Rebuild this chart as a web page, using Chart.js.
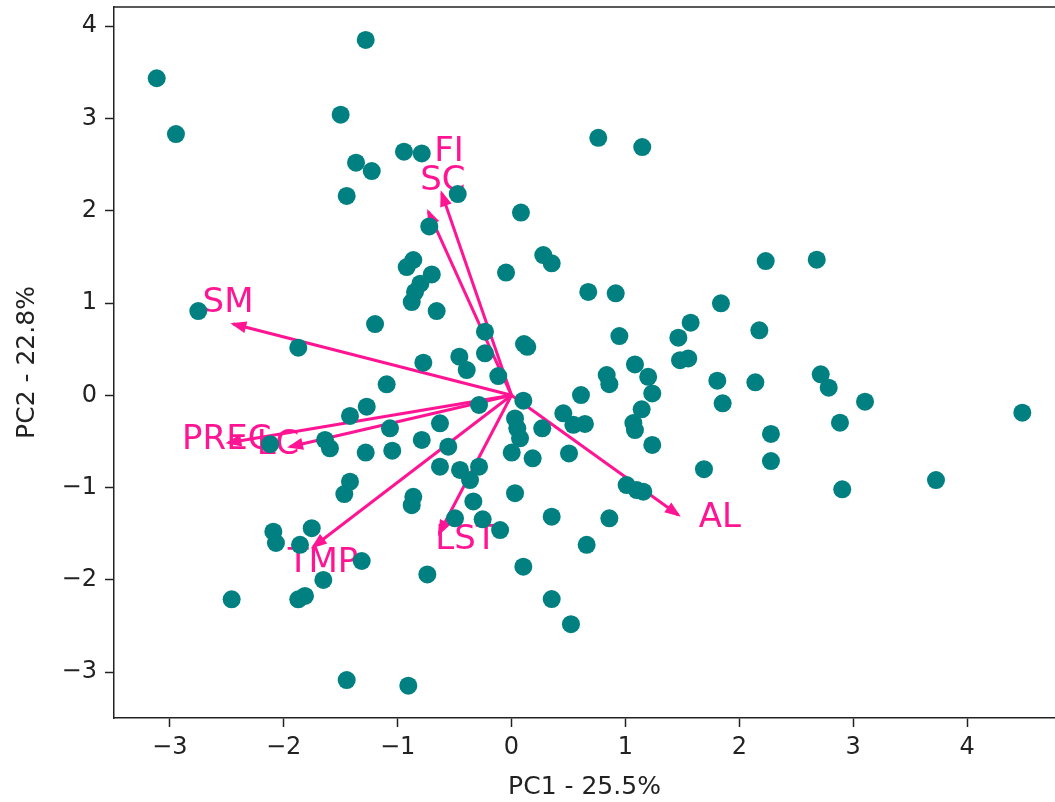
<!DOCTYPE html>
<html>
<head>
<meta charset="utf-8">
<script src="https://cdn.jsdelivr.net/npm/chart.js@4.4.1/dist/chart.umd.min.js"></script>
<style>
  html, body { margin: 0; padding: 0; background: #fff; overflow: hidden; }
</style>
</head>
<body>
<canvas id="myChart" width="1055" height="802"></canvas>
<script>
// scores des observations (PC1, PC2)
const pc1 = [
  -3.115, -2.946, -1.28, -1.50, -0.944, -0.788, -1.365, -1.227, -1.447, 0.762,
  1.148, -0.472, 0.083, -0.722, 0.279, 0.353, 2.232, 2.68, 1.839, 2.176,
  1.573, 1.807, 2.141, 1.854, 2.715, 2.785, 3.104, 2.884, 4.485, 2.278,
  2.278, 1.69, 2.904, 3.727, -0.862, -0.92, -0.70, -0.80, -0.847, -0.876,
  -0.657, -0.048, 0.674, 0.915, 0.947, 1.465, 1.48, 1.552, 1.084, 1.20,
  1.236, 1.143, 1.07, 1.084, 1.236, 0.836, 0.859, 0.61, 0.455, 0.543,
  0.645, 0.505, 1.011, 1.10, 1.157, 0.104, 0.11, 0.139, -0.233, -0.233,
  -0.116, -0.774, -0.458, -0.393, -0.285, 0.031, 0.051, 0.075, 0.27, 0.002,
  0.186, -0.628, -0.788, -0.555, -0.628, -0.452, -0.285, -0.364, -0.862, -0.876,
  -0.335, 0.031, -0.496, -0.253, -0.10, 0.353, 0.859, 0.66, 0.104, 0.353,
  0.522, -0.739, -0.906, -1.468, -1.418, -2.091, -2.068, -1.754, -1.857, -1.315,
  -1.652, -2.457, -1.872, -1.813, -1.447, -2.75, -1.872, -1.198, -1.096, -1.271,
  -1.418, -1.067, -1.637, -1.594, -2.12, -1.28, -1.047
];
const pc2 = [
  3.435, 2.83, 3.85, 3.04, 2.64, 2.62, 2.52, 2.43, 2.16, 2.79,
  2.69, 2.18, 1.98, 1.83, 1.52, 1.43, 1.455, 1.47, 0.997, 0.704,
  0.787, 0.158, 0.141, -0.087, 0.228, 0.083, -0.069, -0.297, -0.188, -0.419,
  -0.712, -0.80, -1.018, -0.918, 1.466, 1.39, 1.31, 1.21, 1.12, 1.01,
  0.913, 1.33, 1.12, 1.105, 0.642, 0.624, 0.38, 0.40, 0.335, 0.20,
  0.02, -0.152, -0.30, -0.376, -0.538, 0.22, 0.12, 0.003, -0.195, -0.32,
  -0.31, -0.63, -0.972, -1.026, -1.044, -0.058, 0.556, 0.526, 0.689, 0.455,
  0.209, 0.353, 0.418, 0.274, -0.105, -0.25, -0.357, -0.466, -0.357, -0.62,
  -0.683, -0.303, -0.484, -0.556, -0.773, -0.809, -0.773, -0.918, -1.10, -1.19,
  -1.15, -1.06, -1.333, -1.343, -1.46, -1.315, -1.333, -1.62, -1.857, -2.207,
  -2.48, -1.94, -3.146, -1.07, -0.936, -1.478, -1.60, -1.44, -1.62, -1.795,
  -2.0, -2.21, -2.21, -2.174, -3.085, 0.913, 0.516, 0.772, 0.119, -0.123,
  -0.224, -0.357, -0.484, -0.574, -0.53, -0.62, -0.60
];

// variables (fleches)
const varNames = ["SM", "FI", "SC", "PREC", "LC", "TMP", "LST", "AL"];
const loadX = [-2.443, -0.613, -0.73, -2.486, -1.945, -1.74, -0.634, 1.465];
const loadY = [0.772, 2.19, 1.99, -0.513, -0.557, -1.64, -1.495, -1.297];
// position des étiquettes
const labelX = [-2.489, -0.549, -0.602, -2.50, -2.05, -1.655, -0.40, 1.83];
const labelY = [1.0, 2.635, 2.32, -0.49, -0.54, -1.815, -1.567, -1.33];

const xTicks = [-3, -2, -1, 0, 1, 2, 3, 4];
const yTicks = [-3, -2, -1, 0, 1, 2, 3, 4];

const pink = "#ff1493";
const teal = "#008080";

const points = pc1.map((x, i) => ({ x: x, y: pc2[i] }));

const datasets = [
  {
    label: "obs",
    data: points,
    backgroundColor: teal,
    borderColor: teal,
    pointRadius: 9,
    pointHoverRadius: 9,
    borderWidth: 0,
    order: 0,
  },
];
varNames.forEach((name, i) => {
  datasets.push({
    label: name,
    type: "line",
    data: [{ x: 0, y: 0 }, { x: loadX[i], y: loadY[i] }],
    borderColor: pink,
    borderWidth: 3,
    pointRadius: 0,
    fill: false,
    order: 1,
  });
});

function fmt(v) {
  return v < 0 ? "\u2212" + Math.abs(v) : String(v);
}

// pas de marge auto pour les labels qui débordent
function noPad(scale) {
  scale.paddingTop = 0;
  scale.paddingBottom = 0;
  scale.paddingLeft = 0;
  scale.paddingRight = 0;
}

// pointes de fleches + textes
const arrowPlugin = {
  id: "arrows",
  afterDatasetDraw(chart, args) {
    const ds = chart.data.datasets[args.index];
    if (ds.type !== "line") return;
    const i = varNames.indexOf(ds.label);
    const xs = chart.scales.x, ys = chart.scales.y;
    const ctx = chart.ctx;
    const x0 = xs.getPixelForValue(0), y0 = ys.getPixelForValue(0);
    const x1 = xs.getPixelForValue(loadX[i]), y1 = ys.getPixelForValue(loadY[i]);
    const a = Math.atan2(y1 - y0, x1 - x0);
    const hl = 13, hw = 6;
    ctx.save();
    ctx.fillStyle = pink;
    ctx.beginPath();
    ctx.moveTo(x1 + Math.cos(a) * 3, y1 + Math.sin(a) * 3);
    ctx.lineTo(x1 - Math.cos(a) * hl + Math.sin(a) * hw, y1 - Math.sin(a) * hl - Math.cos(a) * hw);
    ctx.lineTo(x1 - Math.cos(a) * hl - Math.sin(a) * hw, y1 - Math.sin(a) * hl + Math.cos(a) * hw);
    ctx.closePath();
    ctx.fill();
    ctx.font = "34px 'DejaVu Sans'";
    ctx.textAlign = "center";
    ctx.textBaseline = "middle";
    ctx.fillText(ds.label, xs.getPixelForValue(labelX[i]), ys.getPixelForValue(labelY[i]));
    ctx.restore();
  },
  afterDraw(chart) {
    const c = chart.chartArea;
    const ctx = chart.ctx;
    ctx.save();
    ctx.strokeStyle = "#222";
    ctx.lineWidth = 1.5;
    ctx.beginPath();
    ctx.moveTo(c.left, c.top);
    ctx.lineTo(c.right, c.top);
    ctx.stroke();
    ctx.restore();
  },
};

const config = {
  type: "scatter",
  data: { datasets: datasets },
  options: {
    responsive: false,
    animation: false,
    devicePixelRatio: 1,
    layout: { autoPadding: false, padding: { top: 7, right: 0, left: 0, bottom: 0 } },
    plugins: { legend: false, tooltip: { enabled: false } },
    scales: {
      x: {
        type: "linear",
        min: -3.49,
        max: 4.772,
        afterFit(scale) { scale.height = 84; noPad(scale); },
        afterBuildTicks(scale) { scale.ticks = xTicks.map((v) => ({ value: v })); },
        grid: { drawOnChartArea: false, tickLength: 9, color: "#222", tickWidth: 1.5 },
        border: { color: "#222", width: 1.5 },
        ticks: {
          color: "#222",
          padding: 6,
          font: { family: "DejaVu Sans", size: 24 },
          callback: fmt,
        },
        title: {
          display: true,
          text: "PC1 - 25.5%",
          color: "#222",
          font: { family: "DejaVu Sans", size: 25 },
          padding: { top: 0, bottom: 0 },
        },
      },
      y: {
        type: "linear",
        min: -3.496,
        max: 4.207,
        afterFit(scale) { scale.width = 114; noPad(scale); },
        afterBuildTicks(scale) { scale.ticks = yTicks.map((v) => ({ value: v })); },
        grid: { drawOnChartArea: false, tickLength: 9, color: "#222", tickWidth: 1.5 },
        border: { color: "#222", width: 1.5 },
        ticks: {
          color: "#222",
          padding: 8,
          font: { family: "DejaVu Sans", size: 24 },
          callback: fmt,
        },
        title: {
          display: true,
          text: "PC2 - 22.8%",
          color: "#222",
          font: { family: "DejaVu Sans", size: 25 },
          padding: { top: 12, bottom: 0 },
        },
      },
    },
  },
  plugins: [arrowPlugin],
};

context = document.getElementById("myChart").getContext("2d");
chart = new Chart(context, config);
</script>
</body>
</html>
